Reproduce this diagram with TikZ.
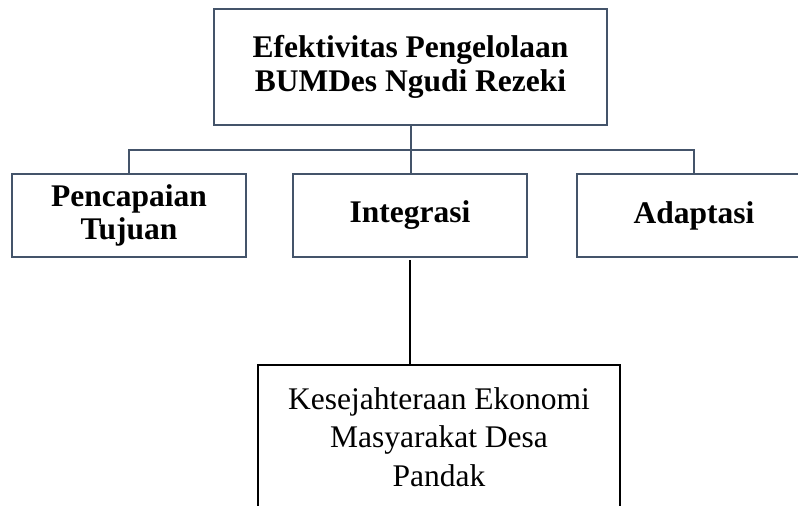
\documentclass[tikz,border=0pt]{standalone}
\usepackage{fontspec}
\setmainfont{Liberation Serif}
\definecolor{slate}{HTML}{44546A}
\tikzset{
    unitbox/.style={draw=slate, line width=2pt, align=center, inner sep=0pt,
        font=\fontsize{31.5}{33.5}\selectfont\bfseries},
    rowbox/.style={unitbox, minimum width=234pt, minimum height=83pt},
    link/.style={draw=slate, line width=2pt},
}
\begin{document}
\begin{tikzpicture}[x=1pt, y=-1pt]
    \clip (0,0) rectangle (798,506);

    \node[unitbox, minimum width=393pt, minimum height=116pt] (efektivitas) at (410.5,67)
        {Efektivitas Pengelolaan\\BUMDes Ngudi Rezeki};

    \node[rowbox] (tujuan) at (129,215.5) {Pencapaian\\Tujuan};
    \node[rowbox] (integrasi) at (410,215.5) {Integrasi};
    \node[rowbox] (adaptasi) at (694,215.5) {Adaptasi};

    \coordinate (bus) at (411,150);
    \draw[link] (efektivitas.south -| bus) -- (bus);
    \draw[link] (tujuan.north) |- (bus) -| (adaptasi.north);
    \draw[link] (bus) -- (integrasi.north -| bus);

    \node[draw, line width=2.2pt, align=center, inner sep=0pt,
        minimum width=362pt, minimum height=144pt,
        font=\fontsize{31.5}{38.5}\selectfont] (kesejahteraan) at (439,437)
        {Kesejahteraan Ekonomi\\Masyarakat Desa\\Pandak};

    \draw[line width=2pt] ([yshift=-2pt]integrasi.south) -- (integrasi.south |- kesejahteraan.north);
\end{tikzpicture}
\end{document}
